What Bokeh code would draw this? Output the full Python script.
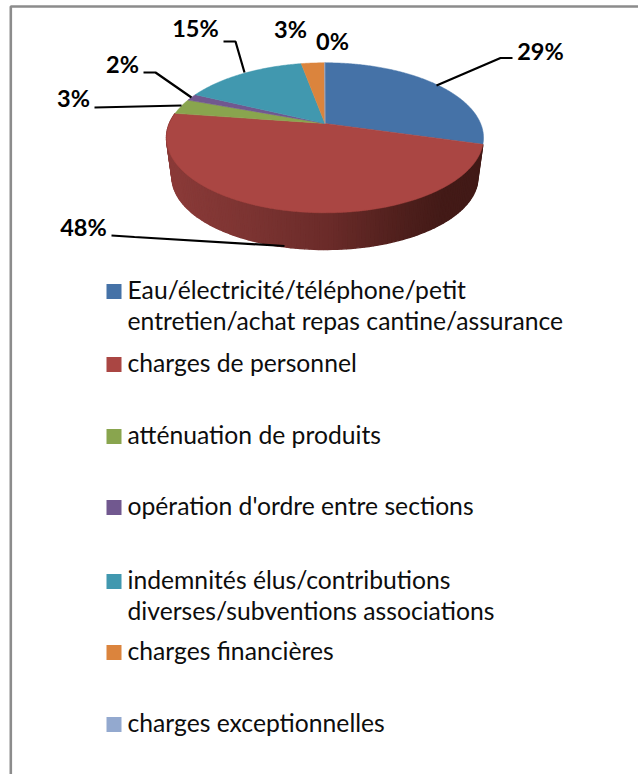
import numpy as np
from bokeh.plotting import figure
from bokeh.models import Range1d
from bokeh.core.properties import value
from bokeh.embed import file_html
from bokeh.resources import INLINE

# ---- data ----
categories = [
    "Eau/électricité/téléphone/petit\nentretien/achat repas cantine/assurance",
    "charges de personnel",
    "atténuation de produits",
    "opération d'ordre entre sections",
    "indemnités élus/contributions\ndiverses/subventions associations",
    "charges financières",
    "charges exceptionnelles",
]
shares = [29.4, 47.9, 3.3, 1.5, 15.0, 2.85, 0.05]
share_labels = ["29%", "48%", "3%", "2%", "15%", "3%", "0%"]
colors = ["#4572A7", "#AA4643", "#89A54E", "#71588F", "#4198AF", "#DB843D", "#93A9CF"]

# ---- layout (page pixels) ----
W, H = 638, 774
CX, CY = 324.5, 123.0      # pie apex
RX, RY, K = 155.6, 72.3, 0.1907   # perspective disc
DEPTH, SHRINK = 39.8, 0.965
label_xy = [(540, 50), (83, 226), (73, 97), (122, 63), (195, 27), (290, 28), (332, 40)]
leaders = [
    [(436, 85), (500, 57.5), (512, 57.5)],
    [(284, 245.5), (134, 236.5), (111, 235)],
    [(181, 105), (94, 107)],
    [(191, 97), (155, 72), (143, 72)],
    [(244, 72), (235, 41), (223, 41)],
]
legend_y = [291, 364, 436, 507, 581, 652, 724]
LINE_STEP = 31
TEXT_DY = -2
SWATCH_X, SWATCH = 113.5, 15
TEXT_X = 127
side_stops_x = [166, 250, 330, 400, 440, 483]
side_stops_rgb = [(0x8B, 0x3B, 0x39), (0x7C, 0x34, 0x32), (0x6A, 0x2B, 0x29),
                  (0x50, 0x20, 0x1D), (0x44, 0x1B, 0x18), (0x42, 0x1A, 0x17)]


def project(theta, scale=1.0, dy=0.0):
    c, s = np.cos(theta), np.sin(theta)
    d = 1 + K * c
    return CX + scale * RX * s / d, CY + dy - scale * RY * c / d


p = figure(width=W, height=H, x_range=Range1d(0, W), y_range=Range1d(H, 0),
           toolbar_location=None, output_backend="svg", min_border=0,
           outline_line_color=None, background_fill_color="white")
p.axis.visible = False
p.grid.visible = False

# frame
p.line([10.3, 10.3, W], [H, 6, 6], line_color="#8C8C8C", line_width=2.6)

edges = np.cumsum([0] + shares) / sum(shares) * 2 * np.pi

# side wall of the front slice
ths = np.linspace(edges[1], edges[2], 121)
for a, b in zip(ths[:-1], ths[1:]):
    xu0, yu0 = project(a)
    xu1, yu1 = project(b)
    xl0, yl0 = project(a, SHRINK, DEPTH)
    xl1, yl1 = project(b, SHRINK, DEPTH)
    xm = (xu0 + xu1) / 2
    rgb = [int(np.interp(xm, side_stops_x, [c[i] for c in side_stops_rgb])) for i in range(3)]
    col = "#%02x%02x%02x" % tuple(rgb)
    p.patch([xu0, xu1, xl1, xl0], [yu0, yu1, yl1, yl0], fill_color=col, line_color=col, line_width=1.4)

# top slices
for i, col in enumerate(colors):
    t = np.linspace(edges[i], edges[i + 1], max(3, int((edges[i + 1] - edges[i]) * 90)))
    xs, ys = project(t)
    p.patch([CX] + list(xs), [CY] + list(ys), fill_color=col, line_color=col, line_width=0.5)

# leader lines
for pts in leaders:
    p.line([q[0] for q in pts], [q[1] for q in pts], line_color="black", line_width=2.2)

# data labels
p.text([q[0] for q in label_xy], [q[1] for q in label_xy], text=share_labels,
       text_font=value("Lato"), text_font_style="bold", text_font_size="23.5px",
       text_color="black", text_align="center", text_baseline="middle")

# legend
for cat, col, y in zip(categories, colors, legend_y):
    p.rect([SWATCH_X], [y], width=SWATCH, height=SWATCH, fill_color=col, line_color=None)
    for j, line in enumerate(cat.split("\n")):
        p.text([TEXT_X], [y + TEXT_DY + j * LINE_STEP], text=[line], text_font=value("Lato"),
               text_font_size="24.7px", text_color="#0d0d0d", text_align="left", text_baseline="middle")

open("out.html", "w").write(file_html(p, INLINE))
